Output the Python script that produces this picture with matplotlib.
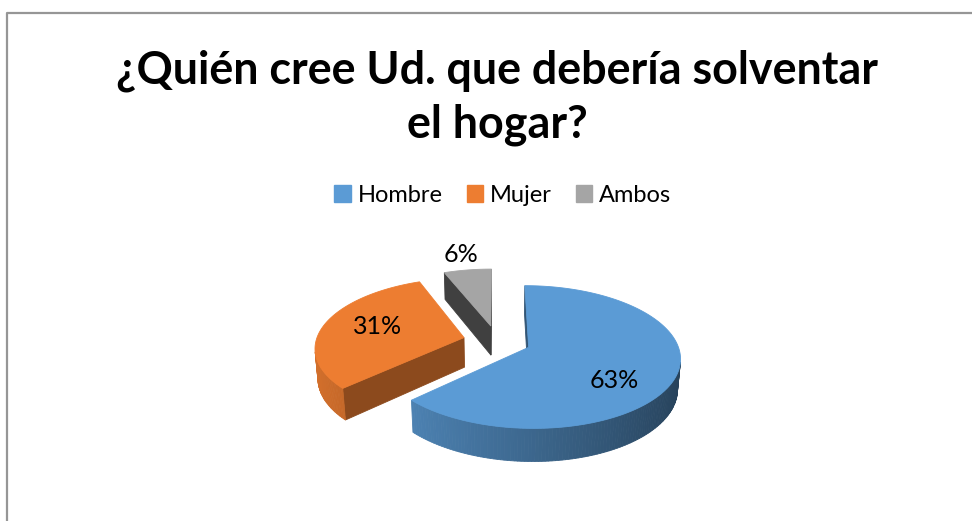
import numpy as np
import matplotlib
matplotlib.use('Agg')
import matplotlib.pyplot as plt
from matplotlib.patches import Polygon, Patch

plt.rcParams['font.family'] = ['Lato', 'DejaVu Sans']

# datos
categorias = ['Hombre', 'Mujer', 'Ambos']
porcentajes = [63, 31, 6]
colores = ['#5B9BD5', '#ED7D31', '#A5A5A5']
titulo = '¿Quién cree Ud. que debería solventar\nel hogar?'

# geometria del pastel 3D (en pixeles de la figura)
W, H = 973, 521
cx, cy = 497, 341       # centro del pastel
k = 148                 # radio horizontal
elev = np.radians(27.5) # inclinacion
D = 6.6                 # distancia de camara (perspectiva)
h = 0.23                # grosor
expl = 0.23             # separacion de las porciones

cam = np.array([0.0, D * np.cos(elev), D * np.sin(elev)])


def proj(u, v, w):
    yc = w * np.cos(elev) - v * np.sin(elev)
    zc = D - v * np.cos(elev) - w * np.sin(elev)
    s = D / zc
    return cx + k * u * s, cy - k * yc * s


def shade(c, f):
    rgb = np.array(matplotlib.colors.to_rgb(c))
    return tuple(np.clip(rgb * f, 0, 1))


fig = plt.figure(figsize=(W / 100, H / 100), dpi=100)
ax = fig.add_axes([0, 0, 1, 1])
ax.set_xlim(0, W)
ax.set_ylim(H, 0)
ax.axis('off')

# borde del grafico
ax.plot([7, 7, 972], [521, 13, 13], color='#969696', lw=1.6, solid_capstyle='butt')

# angulos (horario desde arriba)
frac = np.array(porcentajes) / sum(porcentajes)
ends = np.cumsum(frac) * 2 * np.pi
starts = ends - frac * 2 * np.pi
cut_f = [0.55, 0.59, 0.39]

slices = []
for i in range(len(porcentajes)):
    a0, a1 = starts[i], ends[i]
    mid = (a0 + a1) / 2
    off = np.array([np.sin(mid), -np.cos(mid)]) * expl
    slices.append((i, a0, a1, mid, off))

# de atras hacia adelante
slices.sort(key=lambda t: t[4][1])

for i, a0, a1, mid, off in slices:
    col = colores[i]
    ou, ov = off
    phis = np.linspace(a0, a1, max(int((a1 - a0) / 0.02), 4))
    faces = []
    # pared exterior
    for p0, p1 in zip(phis[:-1], phis[1:]):
        pm = (p0 + p1) / 2
        n = np.array([np.sin(pm), -np.cos(pm), 0])
        pt = np.array([ou + np.sin(pm), ov - np.cos(pm), -h / 2])
        if np.dot(n, cam - pt) <= 0:
            continue
        quad = [proj(ou + np.sin(p), ov - np.cos(p), w)
                for p, w in [(p0, 0), (p1, 0), (p1, -h), (p0, -h)]]
        f = 0.66 - 0.24 * n[0]
        faces.append((np.linalg.norm(cam - pt), quad, shade(col, f)))
    # caras de corte
    for p, sgn in [(a0, -1), (a1, 1)]:
        n = sgn * np.array([np.cos(p), np.sin(p), 0])
        pt = np.array([ou + 0.5 * np.sin(p), ov - 0.5 * np.cos(p), -h / 2])
        if np.dot(n, cam - pt) <= 0:
            continue
        quad = [proj(ou, ov, 0), proj(ou + np.sin(p), ov - np.cos(p), 0),
                proj(ou + np.sin(p), ov - np.cos(p), -h), proj(ou, ov, -h)]
        faces.append((np.linalg.norm(cam - pt), quad, shade(col, cut_f[i])))
    faces.sort(key=lambda t: -t[0])
    for _, quad, fc in faces:
        ax.add_patch(Polygon(quad, closed=True, facecolor=fc, edgecolor=fc, lw=0.6))
    # cara superior
    top = [proj(ou, ov, 0)] + [proj(ou + np.sin(p), ov - np.cos(p), 0) for p in phis]
    ax.add_patch(Polygon(top, closed=True, facecolor=col, edgecolor=col, lw=0.6))

# etiquetas de datos
lab_r = [0.6, 0.62, 1.33]
lab_w = [-0.12, 0.02, 0.0]
for i, a0, a1, mid, off in slices:
    r = lab_r[i]
    x, y = proj(off[0] + r * np.sin(mid), off[1] - r * np.cos(mid), lab_w[i])
    ax.text(x, y, f'{porcentajes[i]}%', ha='center', va='center', fontsize=18, color='black')

ax.text(W / 2 + 11, 98, titulo, ha='center', va='center', fontsize=32.3,
        fontweight='bold', linespacing=1.33)

handles = [Patch(facecolor=c, edgecolor=c) for c in colores]
fig.legend(handles, categorias, loc='center', bbox_to_anchor=(503 / W, 1 - 195 / H),
           ncol=3, frameon=False, fontsize=17, handlelength=0.7, handleheight=0.7,
           handletextpad=0.3, columnspacing=1.0)

fig.savefig('out.png', dpi=100)
